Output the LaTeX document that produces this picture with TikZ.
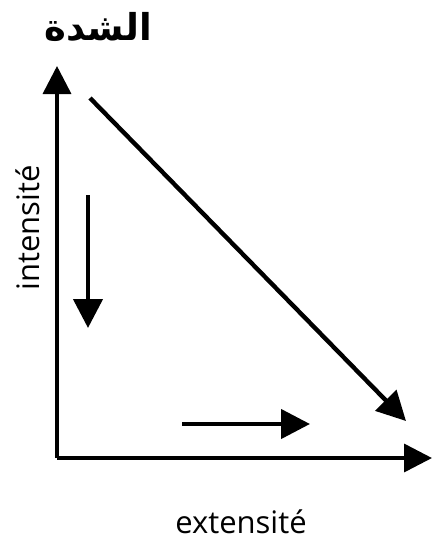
\documentclass[tikz,border=0pt]{standalone}
\usepackage{fontspec}
\setmainfont{Open Sans}
\newfontfamily\arabicfont[Script=Arabic]{DejaVu Sans}
\TeXXeTstate=1
\usetikzlibrary{arrows.meta}

\tikzset{
  axis/.style={line width=3.6pt,-{Triangle[length=28pt,width=28pt]}},
  flow/.style={line width=4.4pt,-{Triangle[length=29pt,width=29pt]}},
  lbl/.style={font=\fontsize{31}{34}\selectfont,inner sep=0pt}
}

\begin{document}
\begin{tikzpicture}[x=1pt,y=-1pt]
\useasboundingbox (0,0) rectangle (435,542);
% axes
\coordinate (o) at (57,458);
\coordinate (ytop) at (57,66);
\coordinate (xend) at (432,458);
\draw[axis] (o) -- (ytop);
\draw[axis] (o) -- (xend);
% arrows
\coordinate (d1) at (90,98);
\coordinate (d2) at (406,421);
\draw[flow] (d1) -- (d2);
\coordinate (v1) at (88,195);
\coordinate (v2) at (88,328);
\draw[flow] (v1) -- (v2);
\coordinate (h1) at (182,424);
\coordinate (h2) at (310,424);
\draw[flow] (h1) -- (h2);
% labels
\node[font=\arabicfont\bfseries\fontsize{37}{40}\selectfont,inner sep=0pt] (title) at (98,27) {\beginR الشدة\endR};
\node[lbl,rotate=90] (ylab) at (28,228) {intensité};
\node[lbl] (xlab) at (241,522) {extensité};
\end{tikzpicture}
\end{document}
